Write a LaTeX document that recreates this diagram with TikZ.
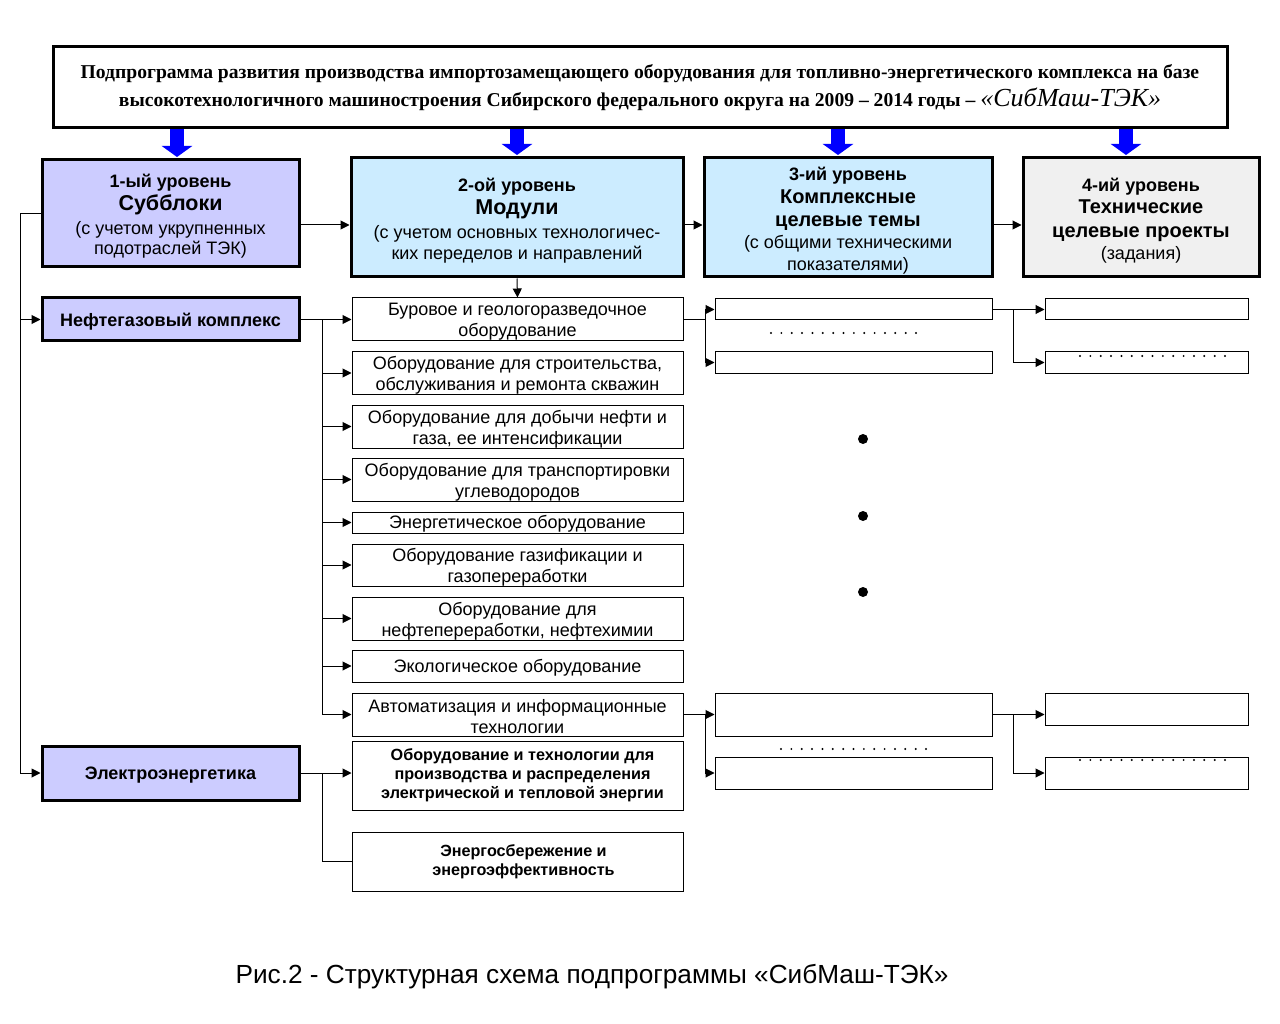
\documentclass[tikz,border=0pt]{standalone}
\usepackage{fontspec}
\setmainfont{Liberation Serif}
\newfontfamily\arial{Liberation Sans}
\usetikzlibrary{arrows.meta,calc}
\newcommand{\fsz}[2]{\fontsize{#1}{#2}\selectfont}
\definecolor{lav}{HTML}{CCCCFF}
\definecolor{lblue}{HTML}{CCECFF}
\definecolor{lgray}{HTML}{F0F0F0}
\definecolor{barrow}{HTML}{0000FF}
\begin{document}
\begin{tikzpicture}[x=1pt,y=-1pt,
  titlebox/.style={draw, line width=3pt, inner sep=0pt, align=center, fill=white, font=\fsz{19.6}{28}\bfseries},
  lvl/.style={draw, line width=3pt, inner sep=0pt},
  lvltxt/.style={inner sep=0pt, align=center, font=\arial\fsz{18}{20.5}},
  modbox/.style={draw, line width=1pt, inner sep=0pt, minimum width=331pt},
  modtxt/.style={inner sep=0pt, align=center, font=\arial\fsz{18}{21}},
  boldtxt/.style={inner sep=0pt, align=center, font=\arial\fsz{16.2}{19.2}\bfseries},
  tbox/.style={draw, line width=1pt, inner sep=0pt, minimum width=277pt},
  pbox/.style={draw, line width=1pt, inner sep=0pt, minimum width=203pt},
  arr/.style={-{Triangle[length=9pt,width=9pt]}, line width=1pt},
  plain/.style={line width=1pt},
  blk/.style={draw=barrow, line width=14pt, -{Triangle[length=11pt,width=30pt]}},
  dotc/.style={fill=black},
]
\useasboundingbox[fill=white] (0,0) rectangle (1280,1024);

% title
\node[titlebox, minimum width=1174pt, minimum height=81pt] (title) at (640,87.5)
 {Подпрограмма развития производства импортозамещающего оборудования для топливно-энергетического комплекса на базе\\
  высокотехнологичного машиностроения Сибирского федерального округа на 2009 -- 2014 годы -- {\fsz{26}{28}\mdseries\itshape «СибМаш-ТЭК»}};

% level boxes
\node[lvl, fill=lav, minimum width=257pt, minimum height=107pt] (l1) at (170.5,213.5) {};
\node[lvltxt] (l1t) at ($(l1)+(0,2.5)$)
 {\textbf{1-ый уровень}\\[2.5pt] {\fsz{21.5}{24}\bfseries Субблоки}\\[3.5pt] (с учетом укрупненных\\[-0.5pt] подотраслей ТЭК)};
\node[lvl, fill=lblue, minimum width=332pt, minimum height=119pt] (l2) at (517,217.5) {};
\node[lvltxt] (l2t) at ($(l2)+(0,3)$)
 {\textbf{2-ой уровень}\\[2.5pt] {\fsz{21.5}{24}\bfseries Модули}\\[3.5pt] (с учетом основных технологичес-\\[0.5pt] ких переделов и направлений};
\node[lvl, fill=lblue, minimum width=288pt, minimum height=119pt] (l3) at (848,217.5) {};
\node[lvltxt] (l3t) at ($(l3)+(0,3)$)
 {\textbf{3-ий уровень}\\[2.5pt] {\fsz{20}{23}\bfseries Комплексные}\\[2.5pt] {\fsz{20}{23}\bfseries целевые темы}\\[1.5pt] (с общими техническими\\[1.5pt] показателями)};
\node[lvl, fill=lgray, minimum width=236pt, minimum height=119pt] (l4) at (1141,217.5) {};
\node[lvltxt] (l4t) at ($(l4)+(0,3)$)
 {\textbf{4-ий уровень}\\[1.5pt] {\fsz{20}{23}\bfseries Технические}\\[3.5pt] {\fsz{20}{23}\bfseries целевые проекты}\\[1.5pt] (задания)};

% subblocks
\node[lvl, fill=lav, minimum width=257pt, minimum height=43pt] (neft) at (170.5,319.5) {};
\node[lvltxt, font=\arial\fsz{18}{21}\bfseries] (neftt) at ($(neft)+(0,2)$) {Нефтегазовый комплекс};
\node[lvl, fill=lav, minimum width=257pt, minimum height=54pt] (elec) at (170.5,773) {};
\node[lvltxt, font=\arial\fsz{18}{21}\bfseries] (elect) at ($(elec)+(0,2)$) {Электроэнергетика};

% modules
\node[modbox, minimum height=43pt] (m1) at (517.5,319.5) {};
\node[modtxt] (m1t) at ($(m1)+(0,2.5)$) {Буровое и геологоразведочное\\ оборудование};
\node[modbox, minimum height=42pt] (m2) at (517.5,373) {};
\node[modtxt] (m2t) at ($(m2)+(0,2.5)$) {Оборудование для строительства,\\ обслуживания и ремонта скважин};
\node[modbox, minimum height=43pt] (m3) at (517.5,426.5) {};
\node[modtxt] (m3t) at ($(m3)+(0,2.5)$) {Оборудование для добычи нефти и\\ газа, ее интенсификации};
\node[modbox, minimum height=43pt] (m4) at (517.5,479.5) {};
\node[modtxt] (m4t) at ($(m4)+(0,2.5)$) {Оборудование для транспортировки\\ углеводородов};
\node[modbox, minimum height=21pt] (m5) at (517.5,522.5) {};
\node[modtxt] (m5t) at ($(m5)+(0,1.5)$) {Энергетическое оборудование};
\node[modbox, minimum height=42pt] (m6) at (517.5,565) {};
\node[modtxt] (m6t) at ($(m6)+(0,2.5)$) {Оборудование газификации и\\ газопереработки};
\node[modbox, minimum height=43pt] (m7) at (517.5,618.5) {};
\node[modtxt] (m7t) at ($(m7)+(0,2.5)$) {Оборудование для\\ нефтепереработки, нефтехимии};
\node[modbox, minimum height=32pt] (m8) at (517.5,666) {};
\node[modtxt] (m8t) at ($(m8)+(0,2)$) {Экологическое оборудование};
\node[modbox, minimum height=43pt] (m9) at (517.5,714.5) {};
\node[modtxt] (m9t) at ($(m9)+(0,2.5)$) {Автоматизация и информационные\\ технологии};
\node[modbox, minimum height=69pt] (m10) at (517.5,775.5) {};
\node[boldtxt] (m10t) at ($(m10)+(5,0)$) {Оборудование и технологии для\\ производства и распределения\\ электрической и тепловой энергии};
\node[modbox, minimum height=59pt] (m11) at (517.5,861.5) {};
\node[boldtxt] (m11t) at ($(m11)+(6,0)$) {Энергосбережение и\\ энергоэффективность};

% themes and projects
\node[tbox, minimum height=21pt] (t1) at (853.5,309.5) {};
\node[tbox, minimum height=21pt] (t2) at (853.5,362.5) {};
\node[tbox, minimum height=43pt] (t3) at (853.5,714.5) {};
\node[tbox, minimum height=32pt] (t4) at (853.5,773) {};
\node[pbox, minimum height=21pt] (p1) at (1146.5,309.5) {};
\node[pbox, minimum height=21pt] (p2) at (1146.5,362.5) {};
\node[pbox, minimum height=32pt] (p3) at (1146.5,709) {};
\node[pbox, minimum height=32pt] (p4) at (1146.5,773) {};

% caption
\node[font=\arial\fsz{26.2}{30}, inner sep=0pt] (cap) at (592,976.5) {Рис.2 - Структурная схема подпрограммы «СибМаш-ТЭК»};

% blue block arrows
\draw[blk] ($(title.south -| l1.north)+(6.5,0)$) -- ($(l1.north)+(6.5,-1.5)$);
\draw[blk] (title.south -| l2.north) -- ($(l2.north)+(0,-1.5)$);
\draw[blk] ($(title.south -| l3.north)+(-10,0)$) -- ($(l3.north)+(-10,-1.5)$);
\draw[blk] ($(title.south -| l4.north)+(-15,0)$) -- ($(l4.north)+(-15,-1.5)$);

% level chain
\coordinate (ya) at (0,225);
\draw[arr] (l1.east |- ya) -- (l2.west |- ya);
\draw[arr] (l2.east |- ya) -- (l3.west |- ya);
\draw[arr] (l3.east |- ya) -- (l4.west |- ya);
\draw[arr] (l2.south) -- (m1.north);

% left bus
\draw[arr] (l1.west) -- ++(-20,0) |- (neft.west);
\draw[arr] (l1.west) -- ++(-20,0) |- (elec.west);

% oil & gas modules
\draw[arr] (neft.east) -- (m1.west);
\foreach \m in {m2,m3,m4,m5,m6,m7,m8,m9}
  \draw[arr] (neft.east) -- ++(22,0) |- (\m.west);

% electric modules
\draw[arr] (elec.east) -- (elec.east -| m10.west);
\draw[plain] (elec.east) -- ++(22,0) |- (m11.west);

% right side upper
\draw[arr] (m1.east) -- ++(22,0) |- (t1.west);
\draw[arr] (m1.east) -- ++(22,0) |- (t2.west);
\draw[arr] (t1.east) -- (p1.west);
\draw[arr] (t1.east) -- ++(21,0) |- (p2.west);

% right side lower
\draw[arr] (m9.east) -- (t3.west);
\draw[arr] (m9.east) -- ++(22,0) |- (t4.west);
\draw[arr] (t3.east) -- (t3.east -| p3.west);
\draw[arr] (t3.east) -- ++(21,0) |- (p4.west);

% dotted ellipses
\foreach \i in {0,...,14} {
  \fill[dotc] (771+\i*10.36,333) circle (1.1);
  \fill[dotc] (1080+\i*10.36,356) circle (1.1);
  \fill[dotc] (781+\i*10.36,749) circle (1.1);
  \fill[dotc] (1080+\i*10.36,760) circle (1.1);
}
\fill[dotc] (863,439) circle (5);
\fill[dotc] (863,516) circle (5);
\fill[dotc] (863,592) circle (5);
\end{tikzpicture}
\end{document}
